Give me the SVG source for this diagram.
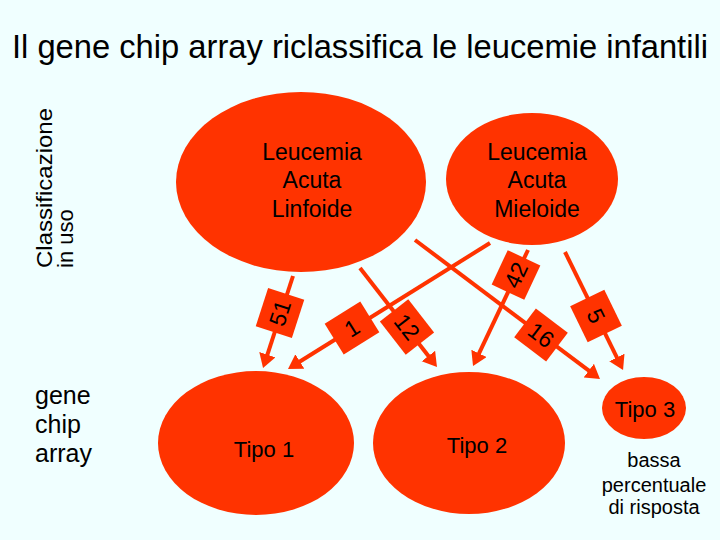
<svg xmlns="http://www.w3.org/2000/svg" width="720" height="540" viewBox="0 0 720 540">
<style>
.node{fill:#FF3300}
.lbl{font-family:"Liberation Sans",Arial,sans-serif;fill:#000;text-anchor:middle}
.txt{font-family:"Liberation Sans",Arial,sans-serif;fill:#000}
.edge{stroke:#FF3300;stroke-width:4;fill:none;marker-end:url(#ah)}
.box{fill:#FF3300}
.num{font-family:"Liberation Sans",Arial,sans-serif;font-size:23px;fill:#000;text-anchor:middle;dominant-baseline:central}
</style>
<defs>
<marker id="ah" markerUnits="userSpaceOnUse" markerWidth="16" markerHeight="18" refX="8" refY="8.5" orient="auto" viewBox="0 0 16 18">
<path d="M0,0 L14,8.5 L0,17 z" fill="#FF3300"/>
</marker>
</defs>
<rect width="720" height="540" fill="#F0FFFF"/>
<text class="txt" x="12" y="58" font-size="33" textLength="696" lengthAdjust="spacingAndGlyphs">Il gene chip array riclassifica le leucemie infantili</text>
<g id="side-labels">
<text class="txt" transform="rotate(-90)" x="-268" y="52" font-size="22" textLength="160" lengthAdjust="spacingAndGlyphs">Classificazione</text>
<text class="txt" transform="rotate(-90)" x="-268" y="73" font-size="22">in uso</text>
<text class="txt" x="35" y="404" font-size="25">gene</text>
<text class="txt" x="35" y="433" font-size="25">chip</text>
<text class="txt" x="35" y="462" font-size="25">array</text>
</g>
<g id="connectors">
<line class="edge" x1="293" y1="276" x2="264.9" y2="362.3"/>
<line class="edge" x1="490" y1="243" x2="293.1" y2="365.8"/>
<line class="edge" x1="360" y1="268" x2="433.3" y2="362.3"/>
<line class="edge" x1="528" y1="250" x2="475.6" y2="360.6"/>
<line class="edge" x1="415" y1="240" x2="595.2" y2="375.4"/>
<line class="edge" x1="565" y1="252" x2="620.4" y2="364.6"/>
<g transform="translate(280,313) rotate(-72)"><rect class="box" x="-20" y="-19" width="40" height="38"/><text class="num" x="0" y="0">51</text></g>
<g transform="translate(352,328) rotate(-32)"><rect class="box" x="-21" y="-18" width="42" height="36"/><text class="num" x="0" y="0">1</text></g>
<g transform="translate(407,327) rotate(52)"><rect class="box" x="-21" y="-18" width="42" height="36"/><text class="num" x="0" y="0">12</text></g>
<g transform="translate(516,275) rotate(-65)"><rect class="box" x="-19" y="-18" width="38" height="36"/><text class="num" x="0" y="0">42</text></g>
<g transform="translate(541,335) rotate(37)"><rect class="box" x="-20" y="-18" width="40" height="36"/><text class="num" x="0" y="0">16</text></g>
<g transform="translate(596,316) rotate(64)"><rect class="box" x="-20" y="-19" width="40" height="38"/><text class="num" x="0" y="0">5</text></g>
</g>
<g id="node-all">
<ellipse class="node" cx="301" cy="182" rx="125" ry="90"/>
<text class="lbl" x="312" y="160" font-size="23">Leucemia</text>
<text class="lbl" x="312" y="188" font-size="23">Acuta</text>
<text class="lbl" x="312" y="217" font-size="23">Linfoide</text>
</g>
<g id="node-lam">
<ellipse class="node" cx="532" cy="179" rx="86" ry="66"/>
<text class="lbl" x="537" y="160" font-size="23">Leucemia</text>
<text class="lbl" x="537" y="188" font-size="23">Acuta</text>
<text class="lbl" x="537" y="217" font-size="23">Mieloide</text>
</g>
<g id="node-tipo1">
<ellipse class="node" cx="256" cy="443" rx="98" ry="72"/>
<text class="lbl" x="264" y="457" font-size="22">Tipo 1</text>
</g>
<g id="node-tipo2">
<ellipse class="node" cx="469" cy="443" rx="96" ry="71"/>
<text class="lbl" x="477" y="453" font-size="22">Tipo 2</text>
</g>
<g id="node-tipo3">
<ellipse class="node" cx="644" cy="408" rx="42" ry="31"/>
<text class="lbl" x="645" y="417" font-size="22">Tipo 3</text>
<text class="lbl" x="654" y="467" font-size="20">bassa</text>
<text class="lbl" x="654" y="492" font-size="20">percentuale</text>
<text class="lbl" x="654" y="514" font-size="20">di risposta</text>
</g>
</svg>
